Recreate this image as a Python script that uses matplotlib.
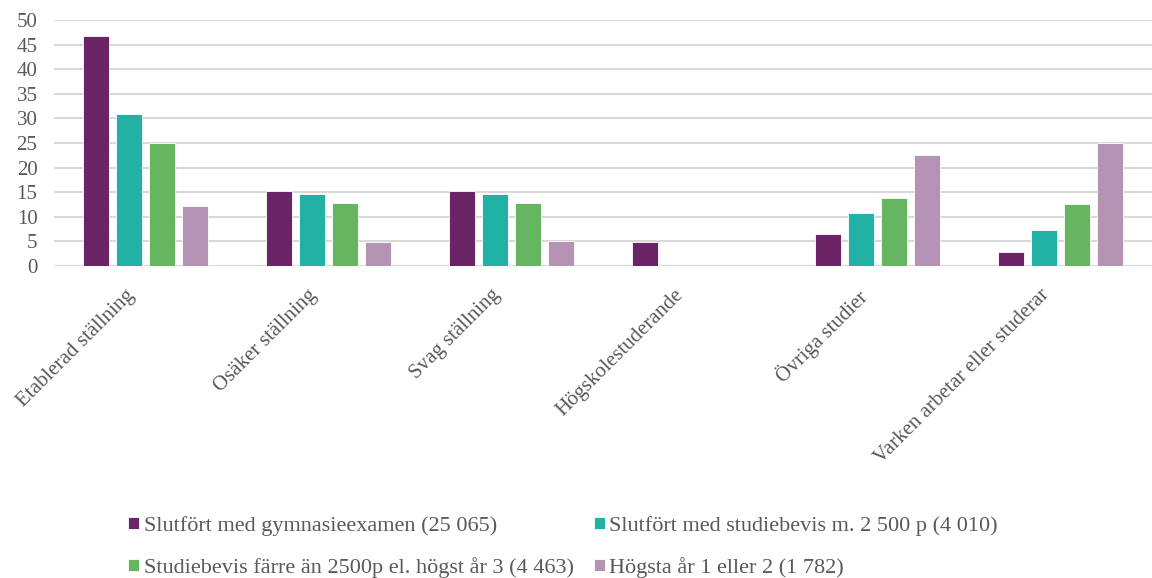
import numpy as np
import matplotlib
matplotlib.use('Agg')
import matplotlib.pyplot as plt
import matplotlib.transforms as mtrans

plt.rcParams['font.family'] = ['Liberation Serif', 'DejaVu Serif']

categories = ['Etablerad ställning', 'Osäker ställning', 'Svag ställning',
              'Högskolestuderande', 'Övriga studier', 'Varken arbetar eller studerar']

series_names = ['Slutfört med gymnasieexamen (25 065)',
                'Slutfört med studiebevis m. 2 500 p (4 010)',
                'Studiebevis färre än 2500p el. högst år 3 (4 463)',
                'Högsta år 1 eller 2 (1 782)']

gymnasieexamen = [46.7, 15.3, 15.3, 4.8, 6.5, 2.8]
studiebevis_2500 = [30.9, 14.7, 14.7, 0.1, 10.8, 7.3]
studiebevis_farre = [24.9, 12.8, 12.8, 0.1, 13.8, 12.6]
hogsta_ar_1_2 = [12.1, 4.9, 5.0, 0.0, 22.6, 25.1]

colors = ['#6B2567', '#22B1A5', '#66B560', '#B593B5']

fig = plt.figure(figsize=(11.52, 5.78), dpi=100)
ax = fig.add_axes([0.047, 0.5398, 0.953, 0.4256])

x = np.arange(len(categories))
width = 0.142
step = 0.18
all_series = [gymnasieexamen, studiebevis_2500, studiebevis_farre, hogsta_ar_1_2]
handles = []
for i, (vals, col, name) in enumerate(zip(all_series, colors, series_names)):
    b = ax.bar(x + (i - 1.5) * step, vals, width, color=col, label=name,
               edgecolor='white', linewidth=0.6, zorder=3)
    handles.append(b)

ax.set_xlim(-0.5, len(categories) - 0.5)
ax.set_ylim(0, 50)
ax.set_yticks(range(0, 51, 5))
ax.yaxis.grid(True, color='#d9d9d9', linewidth=1.5, zorder=0)
for s in ax.spines.values():
    s.set_visible(False)
ax.tick_params(axis='both', length=0, colors='#595959', labelsize=15)
ax.tick_params(axis='y', pad=12)
ax.set_xticks(x)
ax.set_xticklabels(categories, rotation=45, ha='right', va='top',
                   rotation_mode='anchor', color='#595959', fontsize=15)
shift = mtrans.ScaledTranslation(-0.21, -0.15, fig.dpi_scale_trans)
for lbl in ax.get_xticklabels():
    lbl.set_transform(lbl.get_transform() + shift)

# legend fills column-wise, reorder so it reads row by row
order = [0, 2, 1, 3]
fig.legend(handles=[handles[k] for k in order],
           labels=[series_names[k] for k in order],
           loc='upper left', bbox_to_anchor=(0.094, 0.142), ncol=2, frameon=False,
           fontsize=16, labelcolor='#595959', handlelength=0.5, handleheight=0.5,
           handletextpad=0.2, columnspacing=0.9, labelspacing=0.95)

fig.savefig('out.png', dpi=100)
